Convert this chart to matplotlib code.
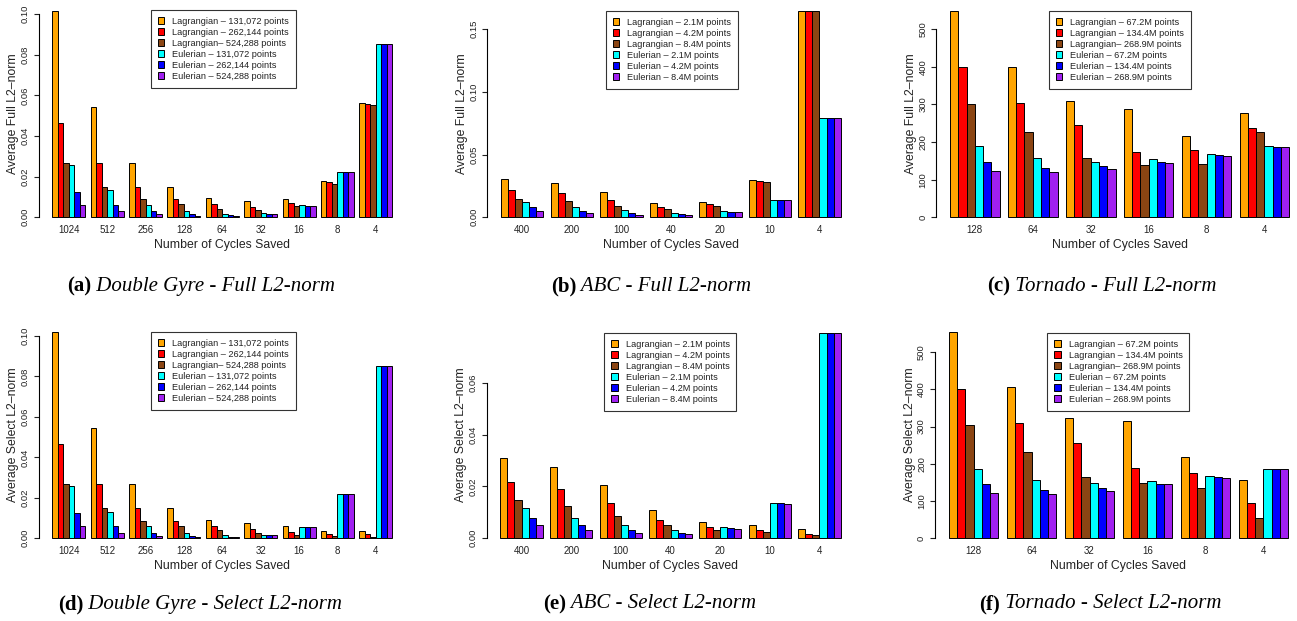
import matplotlib
matplotlib.use("Agg")
import matplotlib.pyplot as plt
from matplotlib.patches import Patch
import numpy as np

W, H = 1297, 621
DPI = 100

plt.rcParams["font.family"] = ["Liberation Sans", "DejaVu Sans"]

colors = ["#FFA500", "#FF0000", "#8B4513", "#00FFFF", "#0000FF", "#A020F0"]

# ---- data ----
dg_cycles = ["1024", "512", "256", "128", "64", "32", "16", "8", "4"]
abc_cycles = ["400", "200", "100", "40", "20", "10", "4"]
tornado_cycles = ["128", "64", "32", "16", "8", "4"]

dg_legend = ["Lagrangian \u2013 131,072 points", "Lagrangian \u2013 262,144 points",
             "Lagrangian\u2013 524,288 points", "Eulerian \u2013 131,072 points",
             "Eulerian \u2013 262,144 points", "Eulerian \u2013 524,288 points"]
abc_legend = ["Lagrangian \u2013 2.1M points", "Lagrangian \u2013 4.2M points",
              "Lagrangian \u2013 8.4M points", "Eulerian \u2013 2.1M points",
              "Eulerian \u2013 4.2M points", "Eulerian \u2013 8.4M points"]
tornado_legend = ["Lagrangian \u2013 67.2M points", "Lagrangian \u2013 134.4M points",
                  "Lagrangian\u2013 268.9M points", "Eulerian \u2013 67.2M points",
                  "Eulerian \u2013 134.4M points", "Eulerian \u2013 268.9M points"]

# one row per series (orange, red, brown, cyan, blue, purple)
dg_full = [
    [0.1016, 0.0544, 0.0267, 0.0149, 0.0093, 0.0080, 0.0092, 0.0179, 0.0562],
    [0.0464, 0.0266, 0.0149, 0.0089, 0.0064, 0.0051, 0.0070, 0.0172, 0.0559],
    [0.0267, 0.0149, 0.0089, 0.0064, 0.0043, 0.0036, 0.0056, 0.0164, 0.0551],
    [0.0259, 0.0133, 0.0061, 0.0031, 0.0016, 0.0020, 0.0059, 0.0221, 0.0851],
    [0.0126, 0.0061, 0.0031, 0.0015, 0.0010, 0.0018, 0.0057, 0.0221, 0.0851],
    [0.0059, 0.0033, 0.0015, 0.0008, 0.0007, 0.0018, 0.0057, 0.0221, 0.0851],
]
dg_select = [
    [0.1020, 0.0544, 0.0267, 0.0148, 0.0092, 0.0076, 0.0059, 0.0035, 0.0035],
    [0.0466, 0.0267, 0.0148, 0.0086, 0.0063, 0.0044, 0.0033, 0.0021, 0.0020],
    [0.0267, 0.0148, 0.0086, 0.0063, 0.0040, 0.0028, 0.0016, 0.0010, 0.0007],
    [0.0257, 0.0129, 0.0059, 0.0028, 0.0015, 0.0015, 0.0054, 0.0219, 0.0850],
    [0.0124, 0.0059, 0.0028, 0.0013, 0.0008, 0.0015, 0.0054, 0.0219, 0.0850],
    [0.0059, 0.0028, 0.0013, 0.0007, 0.0005, 0.0015, 0.0054, 0.0219, 0.0850],
]
abc_full = [
    [0.0309, 0.0277, 0.0205, 0.0117, 0.0120, 0.0298, 0.1646],
    [0.0218, 0.0191, 0.0136, 0.0080, 0.0104, 0.0293, 0.1646],
    [0.0149, 0.0128, 0.0088, 0.0064, 0.0093, 0.0285, 0.1646],
    [0.0122, 0.0080, 0.0056, 0.0032, 0.0048, 0.0138, 0.0795],
    [0.0080, 0.0053, 0.0035, 0.0024, 0.0045, 0.0136, 0.0795],
    [0.0053, 0.0032, 0.0021, 0.0019, 0.0043, 0.0136, 0.0795],
]
abc_select = [
    [0.0308, 0.0276, 0.0206, 0.0108, 0.0064, 0.0050, 0.0035],
    [0.0217, 0.0189, 0.0136, 0.0071, 0.0044, 0.0033, 0.0015],
    [0.0146, 0.0126, 0.0086, 0.0050, 0.0031, 0.0023, 0.0013],
    [0.0118, 0.0078, 0.0051, 0.0031, 0.0045, 0.0136, 0.0793],
    [0.0078, 0.0050, 0.0031, 0.0022, 0.0040, 0.0135, 0.0793],
    [0.0050, 0.0031, 0.0019, 0.0015, 0.0036, 0.0132, 0.0793],
]
tornado_full = [
    [548, 398, 309, 288, 216, 277],
    [399, 303, 244, 173, 179, 237],
    [302, 226, 157, 139, 141, 227],
    [188, 157, 148, 154, 167, 188],
    [146, 130, 136, 146, 165, 187],
    [122, 120, 128, 145, 164, 187],
]
tornado_select = [
    [553, 405, 323, 315, 218, 157],
    [402, 309, 256, 188, 175, 96],
    [304, 231, 165, 148, 136, 55],
    [187, 156, 148, 153, 167, 185],
    [146, 130, 134, 147, 165, 185],
    [121, 120, 127, 145, 163, 185],
]

# ---- layout (pixels): bar span x0..x1, baseline y, ref tick value/pixel, legend top-left ----
panels = [
    dict(data=dg_full, cyc=dg_cycles, leg=dg_legend, x0=52.3, x1=392.3, y0=217.3,
         ref=(0.10, 14.0), ticks=np.arange(0, 0.101, 0.02), fmt="{:.2f}",
         ylab="Average Full L2\u2013norm", lpos=(150.7, 10.0),
         cap=("(a)", "Double Gyre - Full L2-norm"), capx=201, capy=286),
    dict(data=abc_full, cyc=abc_cycles, leg=abc_legend, x0=501.0, x1=840.7, y0=217.3,
         ref=(0.15, 29.3), ticks=np.arange(0, 0.151, 0.05), fmt="{:.2f}",
         ylab="Average Full L2\u2013norm", lpos=(605.7, 10.7),
         cap=("(b)", "ABC - Full L2-norm"), capx=651, capy=286),
    dict(data=tornado_full, cyc=tornado_cycles, leg=tornado_legend, x0=950.0, x1=1289.3, y0=217.3,
         ref=(500, 29.0), ticks=np.arange(0, 501, 100), fmt="{:.0f}",
         ylab="Average Full L2\u2013norm", lpos=(1049.0, 10.7),
         cap=("(c)", "Tornado - Full L2-norm"), capx=1102, capy=286),
    dict(data=dg_select, cyc=dg_cycles, leg=dg_legend, x0=52.3, x1=392.3, y0=538.3,
         ref=(0.10, 336.0), ticks=np.arange(0, 0.101, 0.02), fmt="{:.2f}",
         ylab="Average Select L2\u2013norm", lpos=(150.7, 331.7),
         cap=("(d)", "Double Gyre - Select L2-norm"), capx=200, capy=604),
    dict(data=abc_select, cyc=abc_cycles, leg=abc_legend, x0=500.3, x1=840.7, y0=538.3,
         ref=(0.06, 382.7), ticks=np.arange(0, 0.061, 0.02), fmt="{:.2f}",
         ylab="Average Select L2\u2013norm", lpos=(604.3, 332.7),
         cap=("(e)", "ABC - Select L2-norm"), capx=650, capy=604),
    dict(data=tornado_select, cyc=tornado_cycles, leg=tornado_legend, x0=948.7, x1=1288.3, y0=538.3,
         ref=(500, 352.0), ticks=np.arange(0, 501, 100), fmt="{:.0f}",
         ylab="Average Select L2\u2013norm", lpos=(1047.3, 332.7),
         cap=("(f)", "Tornado - Select L2-norm"), capx=1100, capy=604),
]

fig = plt.figure(figsize=(W / DPI, H / DPI), dpi=DPI)
renderer = fig.canvas.get_renderer()

for p in panels:
    data = np.array(p["data"], dtype=float)
    n_groups = data.shape[1]
    span = 7 * n_groups - 1           # bar units from first bar left to last bar right
    pad = 0.04 * span
    px_unit = (p["x1"] - p["x0"]) / span
    left_px = p["x0"] - pad * px_unit
    right_px = p["x1"] + pad * px_unit
    ref_val, ref_px = p["ref"]
    top_px = 2.0
    px_per_val = (p["y0"] - ref_px) / ref_val
    ytop = (p["y0"] - top_px) / px_per_val

    ax = fig.add_axes([left_px / W, 1 - p["y0"] / H,
                       (right_px - left_px) / W, (p["y0"] - top_px) / H])
    ax.set_xlim(1 - pad, 7 * n_groups + pad)
    ax.set_ylim(0, ytop)

    for j in range(6):
        xs = np.arange(n_groups) * 7 + 1 + j
        ax.bar(xs, data[j], width=1.0, align="edge", color=colors[j],
               edgecolor="black", linewidth=0.7, clip_on=False)

    for s in ["top", "right", "bottom"]:
        ax.spines[s].set_visible(False)
    ax.spines["left"].set_bounds(0, p["ticks"][-1])
    ax.spines["left"].set_linewidth(0.8)
    ax.set_yticks(p["ticks"])
    ax.set_yticklabels([p["fmt"].format(t) for t in p["ticks"]], fontsize=6.8,
                       rotation=90, va="center")
    ax.tick_params(axis="y", length=3.5, width=0.8, pad=3.0, colors="#222222")
    ax.set_xticks(np.arange(n_groups) * 7 + 4)
    ax.set_xticklabels(p["cyc"], fontsize=7.0)
    ax.tick_params(axis="x", length=0, pad=5.5, colors="#222222")
    ax.patch.set_alpha(0)

    mid_x = (p["x0"] + p["x1"]) / 2
    fig.text(mid_x / W, 1 - (p["y0"] + 27.5) / H, "Number of Cycles Saved",
             fontsize=8.8, ha="center", va="center", color="#222222")
    fig.text((left_px - 25.5) / W, 1 - (p["y0"] - 104) / H, p["ylab"],
             fontsize=8.8, ha="center", va="center", rotation=90, color="#222222")

    handles = [Patch(facecolor=c, edgecolor="black", linewidth=0.7) for c in colors]
    lx, ly = p["lpos"]
    leg = ax.legend(handles, p["leg"], loc="upper left",
                    bbox_to_anchor=(lx / W, 1 - ly / H), bbox_transform=fig.transFigure,
                    fontsize=6.6, frameon=True, fancybox=False, borderaxespad=0,
                    borderpad=0.75, handlelength=0.72, handleheight=0.72,
                    handletextpad=0.85, labelspacing=0.22)
    leg.get_frame().set_edgecolor("black")
    leg.get_frame().set_linewidth(0.8)
    for t in leg.get_texts():
        t.set_color("#222222")

    # caption: bold tag + italic title, centred as a whole
    tag, rest = p["cap"]
    cy = 1 - p["capy"] / H
    t1 = fig.text(0, cy, tag, fontsize=15, weight="bold", ha="left", va="center",
                  family=["Liberation Serif", "DejaVu Serif"])
    t2 = fig.text(0, cy, " " + rest, fontsize=15, style="italic", ha="left", va="center",
                  family=["Liberation Serif", "DejaVu Serif"])
    w1 = t1.get_window_extent(renderer).width
    w2 = t2.get_window_extent(renderer).width
    start = p["capx"] - (w1 + w2) / 2
    t1.set_x(start / W)
    t2.set_x((start + w1) / W)

fig.savefig("out.png", dpi=DPI)
